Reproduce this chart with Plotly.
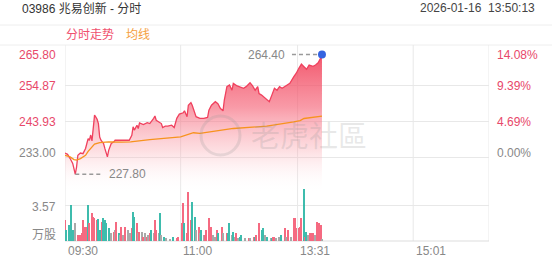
import plotly.graph_objects as go

# ---------------- data ----------------
title_text = "03986 兆易创新 - 分时"
time_text = "2026-01-16  13:50:13"
prev_close = 233.00
price_ticks = [233.00, 243.93, 254.87, 265.80]
price_tick_labels = ["233.00", "243.93", "254.87", "265.80"]
pct_tick_labels = ["0.00%", "4.69%", "9.39%", "14.08%"]
vol_tick = 3.57
vol_tick_labels = ["万股", "3.57"]
x_tick_idx = [0, 90, 181, 271]
x_tick_labels = ["09:30", "11:00", "13:31", "15:01"]
total_minutes = 330

price_idx = [0, 2, 4, 5, 6, 8, 9, 10, 12, 14, 16, 17, 18, 19, 20, 21, 22, 23, 24, 25,
             26, 27, 28, 30, 31, 33, 34, 36, 38, 39, 41, 44, 47, 50, 52, 53, 54, 56, 57, 58,
             61, 64, 66, 69, 70, 71, 73, 75, 76, 78, 80, 83, 85, 87, 89, 92, 93, 95, 96, 98,
             99, 101, 102, 105, 108, 111, 112, 114, 117, 119, 121, 123, 124, 126, 128, 130, 131, 134, 136, 139,
             141, 144, 146, 148, 150, 151, 153, 156, 159, 161, 163, 165, 167, 169, 172, 175, 178, 180, 182, 184,
             186, 188, 190, 193, 195, 197, 199, 200]
price = [234.3, 233.9, 232.6, 231.6, 231.1, 227.8, 230.0, 233.6, 234.3, 234.1, 235.7, 237.2, 238.7, 238.2, 239.8, 238.0, 243.0, 245.9, 245.3, 244.6,
         243.3, 239.2, 238.2, 237.2, 235.7, 233.1, 235.1, 237.2, 237.7, 238.2, 238.2, 238.3, 238.2, 238.2, 239.7, 242.3, 241.3, 242.8, 241.8, 243.5,
         243.0, 243.6, 243.3, 244.9, 245.6, 244.3, 243.8, 243.3, 242.1, 242.5, 242.5, 242.8, 242.1, 244.9, 246.2, 246.6, 247.2, 245.4, 248.9, 249.7,
         248.9, 246.2, 245.4, 244.9, 244.9, 245.2, 247.4, 248.9, 250.0, 249.4, 247.9, 247.2, 250.5, 254.6, 255.1, 253.5, 255.6, 254.8, 254.6, 254.1,
         254.6, 255.8, 254.8, 253.5, 254.6, 252.5, 252.0, 251.0, 250.0, 252.0, 254.1, 253.5, 254.6, 254.1, 254.8, 255.6, 257.6, 258.7, 260.2, 261.5,
         260.7, 259.9, 261.2, 260.8, 261.2, 261.9, 263.3, 264.4]

avg_idx = [0, 1, 4, 7, 9, 12, 16, 18, 21, 23, 27, 34, 44, 51, 66, 90, 100, 105, 131, 157, 178, 183, 186, 200]
avg_price = [233.6, 233.5, 233.1, 232.3, 232.1, 232.6, 233.6, 234.8, 236.2, 237.0, 237.5, 237.7, 237.6, 237.7,
             238.4, 239.2, 240.5, 240.3, 241.8, 242.5, 243.8, 244.2, 244.85, 245.6]

vol_idx = [0, 1, 3, 4, 5, 6, 8, 10, 12, 13, 14, 16, 17, 18, 19, 21, 22, 23, 25, 26,
           27, 29, 30, 31, 32, 34, 35, 36, 38, 39, 40, 42, 43, 44, 45, 47, 49, 51, 52, 53,
           54, 56, 57, 58, 60, 61, 62, 64, 65, 66, 67, 69, 70, 71, 73, 74, 75, 77, 79, 82,
           84, 87, 88, 91, 92, 93, 95, 96, 98, 99, 101, 102, 104, 105, 106, 108, 109, 110, 112, 114,
           115, 117, 118, 119, 122, 123, 126, 127, 128, 130, 131, 132, 133, 135, 136, 137, 140, 143, 144, 147,
           148, 149, 151, 153, 154, 156, 157, 160, 161, 162, 163, 164, 167, 168, 171, 172, 174, 176, 178, 179,
           180, 182, 183, 184, 186, 187, 188, 189, 191, 192, 193, 195, 196, 198, 199, 200]
volume = [2.08, 1.09, 1.59, 1.42, 3.57, 1.09, 1.75, 0.60, 0.60, 0.76, 2.08, 1.42, 1.42, 3.57, 1.75, 2.74, 2.41, 2.25, 2.08, 2.15,
          1.09, 1.92, 2.25, 2.08, 1.75, 1.26, 0.76, 0.76, 0.93, 1.09, 1.92, 0.76, 0.60, 1.42, 0.60, 1.42, 1.09, 0.76, 1.26, 2.91,
          2.41, 1.75, 0.76, 0.93, 0.93, 0.43, 0.76, 0.43, 0.60, 0.76, 1.09, 0.76, 2.08, 1.09, 0.76, 2.74, 0.60, 0.43, 0.26, 0.17,
          0.43, 0.26, 0.43, 1.75, 3.74, 1.75, 0.76, 4.89, 2.08, 3.90, 2.41, 1.09, 1.42, 0.76, 1.09, 0.60, 0.60, 1.09, 2.25, 1.42,
          0.60, 0.43, 1.09, 0.76, 1.42, 0.76, 0.76, 0.76, 1.75, 0.60, 0.93, 0.43, 0.76, 0.26, 0.43, 0.60, 0.26, 0.26, 0.26, 0.43,
          0.43, 0.60, 1.75, 1.09, 1.26, 0.60, 0.43, 0.26, 0.26, 0.43, 0.43, 0.26, 0.43, 0.60, 1.26, 0.43, 1.09, 0.43, 2.25, 2.25,
          1.26, 1.26, 1.42, 2.25, 5.16, 0.43, 0.93, 0.60, 0.76, 0.76, 0.76, 0.60, 1.92, 1.75, 1.58, 0.17]
vol_dir = ["r", "t", "t", "t", "t", "t", "g", "r", "r", "r", "r", "r", "r", "t", "r", "r", "r", "r", "r", "t",
           "t", "r", "t", "t", "t", "t", "t", "g", "r", "g", "r", "t", "g", "r", "g", "r", "g", "g", "r", "t",
           "t", "r", "g", "r", "g", "r", "g", "r", "g", "r", "t", "g", "r", "r", "g", "t", "g", "t", "g", "g",
           "t", "r", "r", "r", "r", "t", "r", "r", "r", "t", "t", "g", "r", "g", "t", "g", "r", "r", "r", "r",
           "g", "g", "r", "t", "r", "g", "r", "t", "t", "g", "t", "g", "r", "g", "t", "t", "g", "r", "g", "r",
           "t", "r", "r", "t", "t", "g", "t", "g", "t", "r", "r", "g", "g", "t", "r", "g", "r", "g", "r", "r",
           "r", "r", "r", "r", "t", "r", "t", "g", "r", "r", "r", "g", "r", "r", "r", "g"]
assert len(vol_idx) == len(volume) == len(vol_dir)
assert len(price_idx) == len(price)
assert len(avg_idx) == len(avg_price)

# ---------------- style ----------------
FONT = "Liberation Sans, Arial, Noto Sans CJK SC, sans-serif"
RED = "#f0415e"
ORANGE = "#f7931e"
TEAL = "#2ab5a5"
GRAY_BAR = "#a0a0a0"
GRID = "#e8e8e8"
LABEL_GRAY = "#888888"
LABEL_RED = "#e8486a"
dir_color = {"r": "#f45a74", "t": TEAL, "g": GRAY_BAR}

W, H = 552, 265
L, R, T, B = 65, 489, 50, 241


def pxx(x):
    return (x - L) / (R - L)


def pyy(y):
    return (B - y) / (B - T)


price_top = price_ticks[-1]
price_bottom = prev_close - (price_top - prev_close) / 3

fig = go.Figure()

# price line with gradient fill
fig.add_trace(go.Scatter(
    x=price_idx, y=price, mode="lines", xaxis="x", yaxis="y",
    line=dict(color=RED, width=1.3),
    fill="tozeroy",
    fillgradient=dict(type="vertical",
                      colorscale=[[0, "rgba(255,255,255,0)"], [0.3, "rgba(250,160,170,0.35)"],
                                  [0.6, "rgba(245,100,120,0.65)"], [1, "rgba(240,60,85,0.9)"]],
                      start=price_bottom, stop=price_top),
    hoverinfo="skip", showlegend=False))

# average line
fig.add_trace(go.Scatter(
    x=avg_idx, y=avg_price, mode="lines", xaxis="x", yaxis="y",
    line=dict(color=ORANGE, width=1.3), hoverinfo="skip", showlegend=False))

# last point dot
fig.add_trace(go.Scatter(
    x=[price_idx[-1]], y=[price[-1]], mode="markers", xaxis="x", yaxis="y",
    marker=dict(color="#3463e0", size=8), hoverinfo="skip", showlegend=False))

# volume bars
fig.add_trace(go.Bar(
    x=vol_idx, y=volume, xaxis="x", yaxis="y2",
    marker=dict(color=[dir_color[d] for d in vol_dir], line=dict(width=0)), opacity=0.9,
    width=0.9, hoverinfo="skip", showlegend=False))

annotations = []
# left price labels
shifts = {0: 4.5, 1: 0, 2: -0.7, 3: -5}
for i, (v, lab, pl) in enumerate(zip(price_ticks, price_tick_labels, pct_tick_labels)):
    col = LABEL_GRAY if i == 0 else LABEL_RED
    annotations.append(dict(x=pxx(58), xref="paper", y=v, yref="y", text=lab, showarrow=False,
                            xanchor="right", yanchor="middle", yshift=shifts[i],
                            font=dict(family=FONT, size=12, color=col)))
    annotations.append(dict(x=pxx(495), xref="paper", y=v, yref="y", text=pl, showarrow=False,
                            xanchor="left", yanchor="middle", yshift=shifts[i],
                            font=dict(family=FONT, size=12, color=col)))
# volume labels
annotations.append(dict(x=pxx(58), xref="paper", y=vol_tick, yref="y2", text=vol_tick_labels[1],
                        showarrow=False, xanchor="right", yanchor="middle", yshift=-1.7,
                        font=dict(family=FONT, size=12, color=LABEL_GRAY)))
annotations.append(dict(x=pxx(58), xref="paper", y=0, yref="y2", text=vol_tick_labels[0],
                        showarrow=False, xanchor="right", yanchor="middle", yshift=6,
                        font=dict(family=FONT, size=12, color=LABEL_GRAY)))
# x labels
for xi, lab in zip(x_tick_idx, x_tick_labels):
    annotations.append(dict(x=xi, xref="x", y=pyy(251), yref="paper", text=lab, showarrow=False,
                            xanchor="left", yanchor="middle", xshift=0.5,
                            font=dict(family=FONT, size=12, color=LABEL_GRAY)))
# header
annotations.append(dict(x=pxx(20), xref="paper", y=pyy(8), yref="paper", text=title_text,
                        showarrow=False, xanchor="left", yanchor="middle",
                        font=dict(family=FONT, size=12, color="#333333")))
annotations.append(dict(x=pxx(537), xref="paper", y=pyy(8), yref="paper", text=time_text,
                        showarrow=False, xanchor="right", yanchor="middle",
                        font=dict(family=FONT, size=12, color="#444444")))
annotations.append(dict(x=pxx(64), xref="paper", y=pyy(34.5), yref="paper", text="分时走势",
                        showarrow=False, xanchor="left", yanchor="middle",
                        font=dict(family=FONT, size=12, color="#f0506e")))
annotations.append(dict(x=pxx(124), xref="paper", y=pyy(34.5), yref="paper", text="均线",
                        showarrow=False, xanchor="left", yanchor="middle",
                        font=dict(family=FONT, size=12, color="#f5a040")))
# min / max labels
imin = price.index(min(price))
annotations.append(dict(x=price_idx[imin], xref="x", y=price[imin], yref="y",
                        text=f"{price[imin]:.2f}", showarrow=False, xanchor="left", yanchor="middle",
                        xshift=32, font=dict(family=FONT, size=12, color=LABEL_GRAY)))
imax = price.index(max(price))
annotations.append(dict(x=price_idx[imax], xref="x", y=price[imax], yref="y",
                        text=f"{price[imax]:.2f}", showarrow=False, xanchor="right", yanchor="middle",
                        xshift=-35, font=dict(family=FONT, size=12, color=LABEL_GRAY)))
# watermark
annotations.append(dict(x=pxx(309), xref="paper", y=pyy(134), yref="paper", text="老虎社區",
                        showarrow=False, xanchor="center", yanchor="middle",
                        font=dict(family="Noto Sans CJK SC", size=29, color="rgba(150,150,150,0.22)")))

shapes = []
# header separators
for yline in (25, 45):
    shapes.append(dict(type="line", xref="paper", yref="paper", x0=pxx(0), x1=pxx(W),
                       y0=pyy(yline), y1=pyy(yline), line=dict(color="#eeeeee", width=1), layer="below"))
# vertical grid / frame lines
for xv in [0] + x_tick_idx[1:] + [total_minutes]:
    shapes.append(dict(type="line", xref="x", yref="paper", x0=xv, x1=xv, y0=pyy(45), y1=0,
                       line=dict(color=GRID, width=1), layer="below"))
# bottom frame
shapes.append(dict(type="line", xref="x", yref="paper", x0=0, x1=total_minutes, y0=0, y1=0,
                   line=dict(color="#dddddd", width=1), layer="below"))
# dashed pointers
shapes.append(dict(type="line", xref="x", yref="y", xsizemode="pixel", xanchor=price_idx[imin],
                   x0=0, x1=27, y0=price[imin], y1=price[imin],
                   line=dict(color="#9a9a9a", width=1.5, dash="4px,3px")))
shapes.append(dict(type="line", xref="x", yref="y", xsizemode="pixel", xanchor=price_idx[imax],
                   x0=-30, x1=-3, y0=price[imax], y1=price[imax],
                   line=dict(color="#9a9a9a", width=1.5, dash="4px,3px")))
# watermark logo ring
shapes.append(dict(type="circle", xref="paper", yref="paper",
                   x0=pxx(201), x1=pxx(240), y0=pyy(116), y1=pyy(155),
                   line=dict(color="rgba(150,150,150,0.22)", width=3)))

fig.update_layout(
    width=W, height=H,
    margin=dict(l=L, r=W - R, t=T, b=H - B, pad=0),
    paper_bgcolor="white", plot_bgcolor="rgba(0,0,0,0)",
    showlegend=False, bargap=0,
    font=dict(family=FONT, size=12, color=LABEL_GRAY),
    xaxis=dict(range=[0, total_minutes], showgrid=False, zeroline=False, showticklabels=False,
               ticks="", showline=False, anchor="y2", fixedrange=True),
    yaxis=dict(domain=[pyy(193), 1], range=[price_bottom, price_top], tickvals=price_ticks,
               showgrid=True, gridcolor=GRID, gridwidth=1, zeroline=False, showticklabels=False,
               ticks="", showline=False, anchor="x"),
    yaxis2=dict(domain=[0, pyy(169)], range=[0, 2 * vol_tick], tickvals=[vol_tick],
                showgrid=True, gridcolor=GRID, gridwidth=1, zeroline=False, showticklabels=False,
                ticks="", showline=False, anchor="x"),
    annotations=annotations, shapes=shapes,
)

fig.write_html("out.html")
